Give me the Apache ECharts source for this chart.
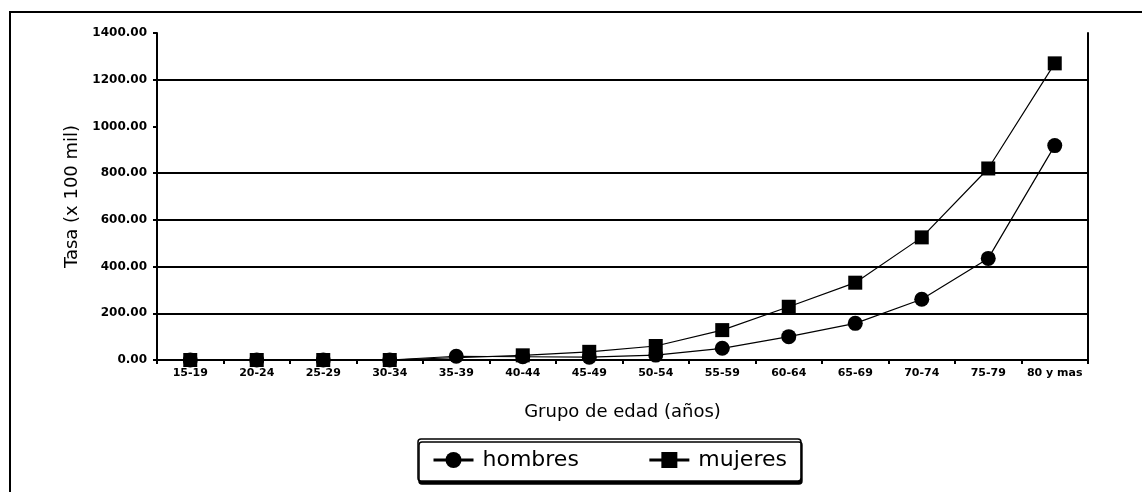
<!DOCTYPE html>
<html>
<head>
<meta charset="utf-8">
<script src="https://cdn.jsdelivr.net/npm/echarts@6/dist/echarts.min.js"></script>
<style>
  html, body { margin: 0; padding: 0; background: #fff; }
  #chart { width: 1142px; height: 492px; }
</style>
</head>
<body>
<div id="chart"></div>
<script>
// Age groups on the horizontal axis
const ageGroups = ['15-19', '20-24', '25-29', '30-34', '35-39', '40-44', '45-49',
  '50-54', '55-59', '60-64', '65-69', '70-74', '75-79', '80 y mas'];

// Rates per 100 000 inhabitants
const hombres = [0, 0, 0, 0, 16, 14, 12, 21, 50, 100, 157, 260, 435, 918];
const mujeres = [0, 0, 0, 0, null, 20, 35, 60, 128, 228, 331, 525, 820, 1270];

// Value axis ticks
const yTicks = [0, 200, 400, 600, 800, 1000, 1200, 1400];

const ink = '#000';
const txtFont = 'DejaVu Sans';

// Gridline colours per tick (1000 and the top edge are left blank)
const gridColors = yTicks.map(v => (v === 1000 || v === 1400) ? 'rgba(0,0,0,0)' : ink);

const chart = echarts.init(document.getElementById('chart'), null, { renderer: 'canvas' });

chart.setOption({
  backgroundColor: '#fff',
  animation: false,
  graphic: [{
    type: 'rect',
    shape: { x: 10, y: 12, width: 1300, height: 700 },
    style: { fill: 'none', stroke: ink, lineWidth: 2 },
    silent: true,
    z: 0
  }],
  grid: { left: 157, right: 54, top: 33, bottom: 132 },
  legend: {
    data: ['hombres', 'mujeres'],
    left: 418,
    top: 439,
    orient: 'horizontal',
    itemWidth: 40,
    itemHeight: 20,
    itemGap: 69,
    padding: [10, 14, 10, 14],
    backgroundColor: '#fff',
    borderColor: ink,
    borderWidth: 1.5,
    borderRadius: 3,
    shadowColor: ink,
    shadowOffsetX: 1,
    shadowOffsetY: 3,
    shadowBlur: 0,
    lineStyle: { width: 3, color: ink },
    itemStyle: { color: ink },
    textStyle: { fontFamily: txtFont, fontSize: 22, color: ink, padding: [0, 0, 0, 4] }
  },
  xAxis: {
    type: 'category',
    data: ageGroups,
    boundaryGap: true,
    name: 'Grupo de edad (años)',
    nameLocation: 'middle',
    nameGap: 43,
    nameTextStyle: { fontFamily: txtFont, fontSize: 18, color: ink },
    axisLine: { lineStyle: { color: ink, width: 2 } },
    axisTick: { show: true, length: 4, lineStyle: { color: ink, width: 2 } },
    axisLabel: { fontFamily: txtFont, fontSize: 11, fontWeight: 'bold', color: ink, margin: 8, interval: 0 },
    splitLine: { show: false }
  },
  yAxis: [{
    type: 'value',
    min: 0,
    max: 1400,
    interval: 200,
    name: 'Tasa (x 100 mil)',
    nameLocation: 'middle',
    nameGap: 74,
    nameRotate: 90,
    nameTextStyle: { fontFamily: txtFont, fontSize: 18, color: ink },
    axisLine: { show: true, lineStyle: { color: ink, width: 2 } },
    axisTick: { show: true, length: 4, lineStyle: { color: ink, width: 2 } },
    axisLabel: {
      fontFamily: txtFont, fontSize: 12, fontWeight: 'bold', color: ink, margin: 10,
      formatter: v => v.toFixed(2)
    },
    splitLine: { show: true, lineStyle: { color: gridColors, width: 2 } }
  }, {
    type: 'value',
    position: 'right',
    min: 0,
    max: 1400,
    interval: 200,
    axisLine: { show: true, lineStyle: { color: ink, width: 2 } },
    axisTick: { show: false },
    axisLabel: { show: false },
    splitLine: { show: false }
  }],
  series: [{
    name: 'hombres',
    type: 'line',
    data: hombres,
    symbol: 'circle',
    symbolSize: 15,
    itemStyle: { color: ink },
    lineStyle: { color: ink, width: 1.2 },
    z: 2
  }, {
    name: 'mujeres',
    type: 'line',
    data: mujeres,
    connectNulls: true,
    symbol: 'rect',
    symbolSize: 14,
    itemStyle: { color: ink },
    lineStyle: { color: ink, width: 1.2 },
    z: 3
  }]
});
</script>
</body>
</html>
